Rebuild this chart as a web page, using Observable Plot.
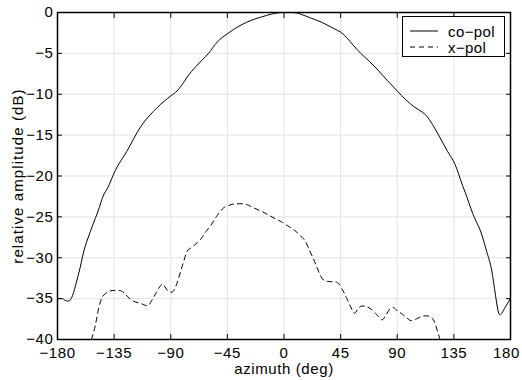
<!DOCTYPE html>
<html>
<head>
<meta charset="utf-8">
<script src="https://cdn.jsdelivr.net/npm/d3@7"></script>
<script src="https://cdn.jsdelivr.net/npm/@observablehq/plot@0.6"></script>
<style>
  html, body { margin: 0; padding: 0; background: white; }
  #wrap { position: relative; width: 522px; height: 380px; font-family: "Liberation Sans", Arial, sans-serif; }
  #legend { position: absolute; left: 402px; top: 16px; width: 101px; height: 39px; border: 1px solid black; background: white; font-size: 15px; letter-spacing: 0.4px; }
  #legend .row { position: absolute; left: 0; height: 16px; display: flex; align-items: center; }
  #legend svg { margin-left: 7px; margin-right: 10px; }
</style>
</head>
<body>
<div id="wrap"></div>
<script>
// Data
const xTicks = [-180, -135, -90, -45, 0, 45, 90, 135, 180];
const yTicks = [-40, -35, -30, -25, -20, -15, -10, -5, 0];

const coAz = [-180, -176, -174, -172, -171, -168, -165, -162, -160, -158, -156, -152, -148, -143, -140.6, -134, -125, -114, -100.6, -90, -85, -80, -77, -70, -60, -53, -45, -35, -25, -18, -10, -5, 0, 5, 10, 15, 20, 30, 40, 45, 50, 55, 61, 68, 75, 82, 90, 97, 104, 110, 113, 118, 125, 130, 136, 142, 144, 150, 157, 161, 165, 168, 170, 171.5, 173, 176, 180];
const coDb = [-35.0, -35.0, -35.2, -35.3, -35.3, -34.6, -33.0, -31.2, -29.8, -28.6, -27.7, -26.0, -24.4, -22.2, -21.6, -19.3, -17.0, -14.0, -11.6, -10.2, -9.6, -8.6, -7.9, -6.6, -5.0, -3.6, -2.6, -1.6, -0.9, -0.55, -0.2, -0.05, 0, 0, -0.05, -0.3, -0.6, -1.2, -2.0, -2.4, -3.1, -4.0, -5.0, -6.0, -7.1, -8.3, -9.6, -10.7, -11.6, -12.2, -12.6, -13.7, -15.6, -17.0, -18.6, -21.2, -22.0, -24.6, -27.1, -29.2, -31.5, -34.5, -36.4, -37.0, -36.8, -36.0, -35.0];

const xpAz = [-153, -150, -147, -145, -142, -139, -135, -131, -127, -124, -120, -116, -112, -108.5, -105, -102, -98, -96.5, -94, -92, -89, -86, -84, -80, -77, -74, -70, -66, -62, -58, -53, -48, -44, -38, -33, -28, -24, -18, -12, -6, -2, 3, 8, 13, 17, 20, 23, 26, 29, 32, 35, 42, 46, 50, 53, 56, 59, 62, 66, 70, 74, 78, 81, 84, 87, 90, 94, 98, 101, 105, 109, 113, 117, 120, 122, 124];
const xpDb = [-40, -38.3, -36.0, -35.0, -34.4, -34.1, -34.0, -34.0, -34.3, -34.8, -35.3, -35.5, -35.7, -35.9, -35.2, -34.4, -33.4, -33.2, -33.7, -34.1, -34.2, -33.5, -32.6, -30.6, -29.2, -28.8, -28.3, -27.7, -26.8, -26.0, -24.8, -23.9, -23.6, -23.4, -23.4, -23.6, -23.9, -24.3, -24.8, -25.3, -25.6, -26.1, -26.6, -27.3, -28.0, -29.0, -30.0, -31.1, -32.2, -32.8, -32.9, -33.0, -33.8, -35.0, -36.0, -36.8, -36.2, -35.9, -36.0, -36.4, -37.0, -37.6, -37.0, -36.3, -36.1, -36.5, -36.9, -37.4, -37.7, -37.5, -37.2, -37.1, -37.3, -38.0, -39.0, -40.0];

const seriesNames = ["co\u2212pol", "x\u2212pol"];
const xLabel = "azimuth (deg)";
const yLabel = "relative amplitude (dB)";

const co = coAz.map((a, i) => ({az: a, db: coDb[i]}));
const xp = xpAz.map((a, i) => ({az: a, db: xpDb[i]}));
const fmt = d => (d < 0 ? "\u2212" + Math.abs(d) : String(d));

const chart = Plot.plot({
  width: 522,
  height: 380,
  marginLeft: 57,
  marginRight: 12,
  marginTop: 12,
  marginBottom: 41,
  style: {fontFamily: "'Liberation Sans', Arial, sans-serif", fontSize: "15px", background: "white", color: "black", overflow: "visible", letterSpacing: "0.6px"},
  x: {domain: [-180, 180]},
  y: {domain: [-40, 0]},
  marks: [
    Plot.gridX(xTicks, {stroke: "#e3e3e3", strokeOpacity: 1}),
    Plot.gridY(yTicks, {stroke: "#e3e3e3", strokeOpacity: 1}),
    Plot.line(co, {x: "az", y: "db", stroke: "black", strokeWidth: 1, curve: "monotone-x", clip: true}),
    Plot.line(xp, {x: "az", y: "db", stroke: "black", strokeWidth: 1, strokeDasharray: "5,4", curve: "monotone-x", clip: true}),
    Plot.axisX(xTicks, {anchor: "bottom", tickSize: 0, tickPadding: 8, tickFormat: fmt, label: null}),
    Plot.axisX(xTicks, {anchor: "bottom", tickSize: -5, fill: "none", label: null}),
    Plot.axisX(xTicks, {anchor: "top", tickSize: -5, fill: "none", label: null}),
    Plot.axisY(yTicks, {anchor: "left", tickSize: 0, tickPadding: 4, tickFormat: fmt, label: null}),
    Plot.axisY(yTicks, {anchor: "left", tickSize: -5, fill: "none", label: null}),
    Plot.axisY(yTicks, {anchor: "right", tickSize: -5, fill: "none", label: null}),
    Plot.frame({stroke: "black", strokeWidth: 1.5}),
    Plot.text([xLabel], {frameAnchor: "bottom", dy: 34, lineAnchor: "bottom", textAnchor: "middle", fill: "black"}),
    Plot.text([yLabel], {frameAnchor: "left", rotate: -90, dx: -45, lineAnchor: "top", textAnchor: "middle", fill: "black"})
  ]
});

const wrap = document.getElementById("wrap");
wrap.appendChild(chart);
chart.style.position = "absolute";
chart.style.left = "0";
chart.style.top = "0";
chart.querySelectorAll("text").forEach(t => {
  if (t.textContent === yLabel) t.style.letterSpacing = "1.1px";
  if (t.textContent === "180") t.setAttribute("dx", "-4");
});

const legend = document.createElement("div");
legend.id = "legend";
const dashes = [null, "5,4"];
seriesNames.forEach((name, i) => {
  const row = document.createElement("div");
  row.className = "row";
  row.style.top = (6 + i * 16) + "px";
  row.innerHTML = `<svg width="28" height="4"><line x1="0" y1="2" x2="28" y2="2" stroke="black" stroke-width="1" ${dashes[i] ? `stroke-dasharray="${dashes[i]}"` : ""}/></svg><span>${name}</span>`;
  legend.appendChild(row);
});
wrap.appendChild(legend);
</script>
</body>
</html>
